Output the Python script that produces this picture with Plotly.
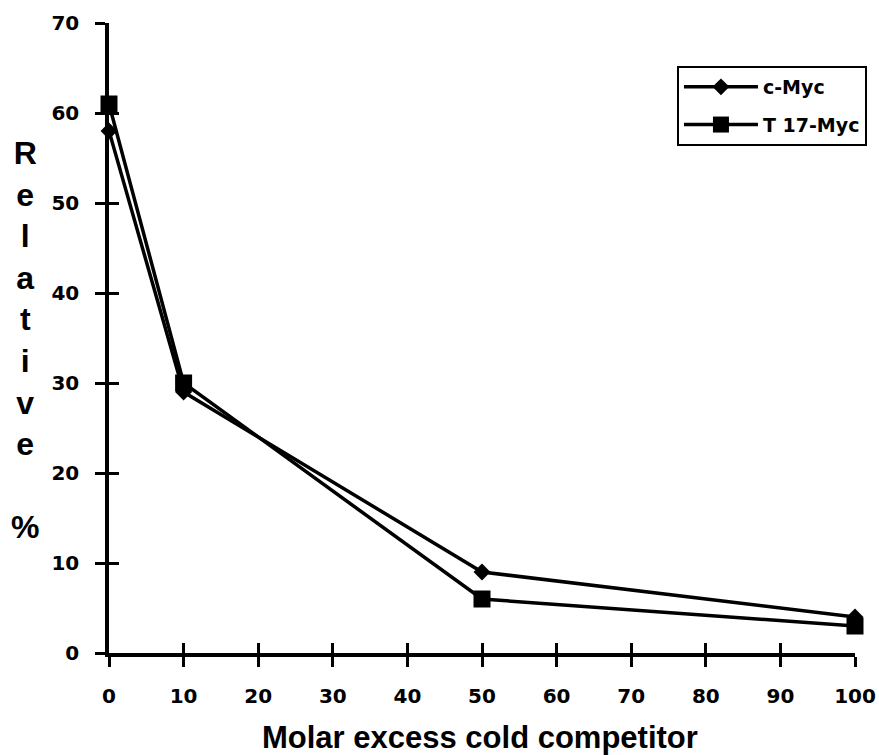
import plotly.graph_objects as go

# ---- data ----
x_vals = [0, 10, 50, 100]
cmyc_vals = [58, 29, 9, 4]
t17_vals = [61, 30, 6, 3]
series_names = ["c-Myc", "T 17-Myc"]
x_title = "Molar excess cold competitor"
y_title = "Relative %"
x_tick_vals = [0, 10, 20, 30, 40, 50, 60, 70, 80, 90, 100]
y_tick_vals = [0, 10, 20, 30, 40, 50, 60, 70]

W, H = 879, 755
ML, MR, MT, MB = 109, 20, 23, 102
PW, PH = W - ML - MR, H - MT - MB

def px_x(px):
    return (px - ML) / PW

def px_y(py):
    return (H - MB - py) / PH

tick_font = dict(family="DejaVu Sans", size=20, color="black", weight="bold")

fig = go.Figure()
fig.add_trace(go.Scatter(
    x=x_vals, y=cmyc_vals, name=series_names[0], mode="lines+markers",
    line=dict(color="black", width=3.5),
    marker=dict(symbol="diamond", size=13, color="black"),
    cliponaxis=False, legendgroup="a",
))
fig.add_trace(go.Scatter(
    x=x_vals, y=t17_vals, name=series_names[1], mode="lines+markers",
    line=dict(color="black", width=3.5),
    marker=dict(symbol="square", size=17, color="black"),
    cliponaxis=False, legendgroup="b",
))
# invisible helper trace so the overlay axes (inner half of the crossing ticks) render
fig.add_trace(go.Scatter(
    x=x_vals, y=cmyc_vals, xaxis="x2", yaxis="y2", mode="markers",
    marker=dict(opacity=0, size=1), showlegend=False, hoverinfo="skip",
))

axis_common = dict(showgrid=False, zeroline=False, linecolor="black", linewidth=3.5,
                   ticks="outside", ticklen=10, tickwidth=3, tickcolor="black",
                   tickfont=tick_font, ticklabeloverflow="allow", automargin=False)

fig.update_layout(
    width=W, height=H,
    margin=dict(l=ML, r=MR, t=MT, b=MB),
    paper_bgcolor="white", plot_bgcolor="white",
    showlegend=True,
    legend=dict(x=px_x(680), y=px_y(66), xanchor="left", yanchor="top",
                bordercolor="black", borderwidth=2, bgcolor="white",
                font=dict(family="DejaVu Sans", size=19, color="black", weight="bold"),
                traceorder="grouped", tracegroupgap=10, itemwidth=74),
    xaxis=dict(range=[0, 100], tickvals=x_tick_vals, showline=True,
               ticklabelstandoff=12, **axis_common),
    yaxis=dict(range=[0, 70], tickvals=y_tick_vals, showline=True,
               ticklabelstandoff=12, **axis_common),
    xaxis2=dict(range=[0, 100], tickvals=x_tick_vals, overlaying="x", anchor="y",
                side="bottom", showticklabels=False, showline=False, showgrid=False,
                zeroline=False, ticks="inside", ticklen=10, tickwidth=3, tickcolor="black",
                automargin=False),
    yaxis2=dict(range=[0, 70], tickvals=y_tick_vals, overlaying="y", anchor="x",
                side="left", showticklabels=False, showline=False, showgrid=False,
                zeroline=False, ticks="inside", ticklen=10, tickwidth=3, tickcolor="black",
                automargin=False),
)

fig.add_annotation(
    text=x_title, xref="paper", yref="paper", x=px_x(482), y=px_y(737),
    xanchor="center", yanchor="middle", showarrow=False,
    font=dict(family="Liberation Sans", size=31, color="black", weight="bold"),
)

fig.add_annotation(
    text="<br>".join(ch if ch != " " else "" for ch in y_title),
    xref="paper", yref="paper", x=px_x(25), y=px_y(340),
    xanchor="center", yanchor="middle", showarrow=False, align="center",
    font=dict(family="Liberation Sans", size=32, color="black", weight="bold"),
)

fig.write_html("out.html")
